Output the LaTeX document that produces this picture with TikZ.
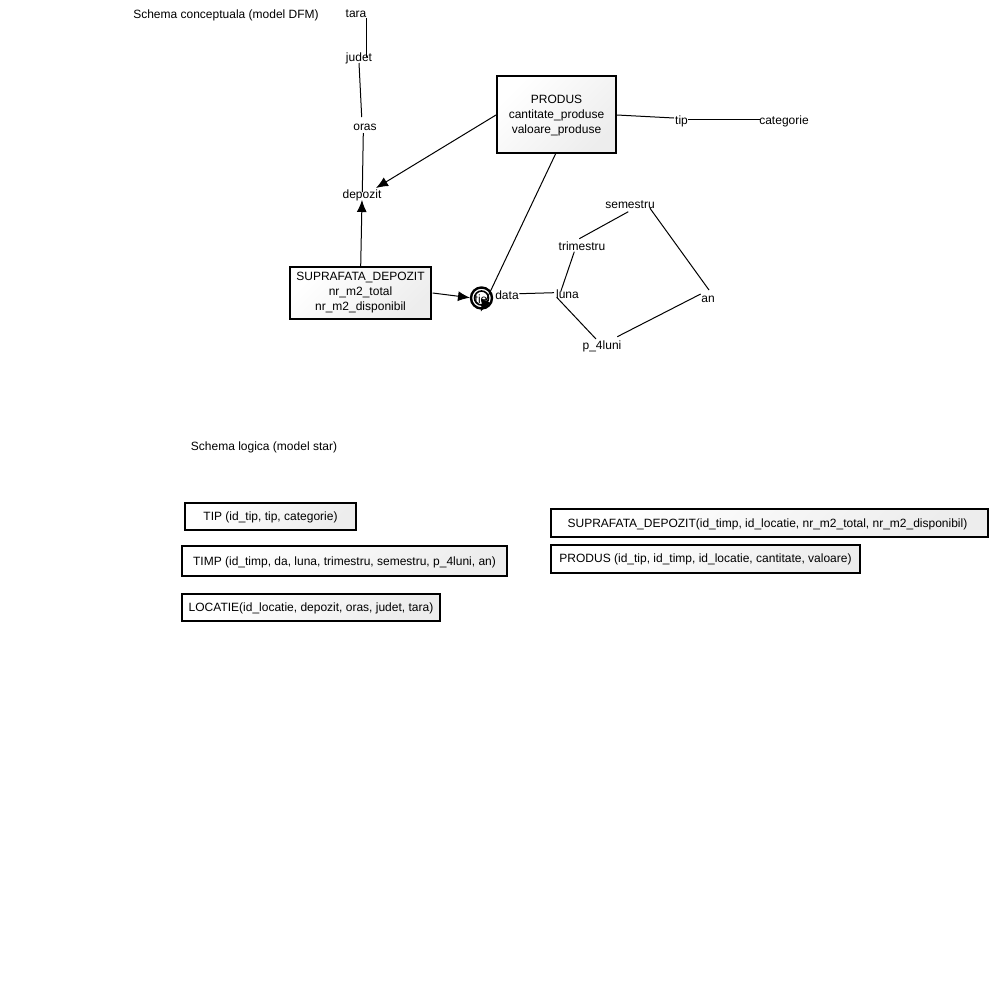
\documentclass[tikz,border=0pt]{standalone}
\usepackage{fontspec}
\setmainfont{Liberation Sans}
\usetikzlibrary{arrows.meta}
\newcommand{\nudgeline}{\rule{0pt}{8.2pt}}
\tikzset{
  lbl/.style={font=\fontsize{9pt}{11.25pt}\selectfont,inner sep=0pt,align=center},
  factbox/.style={lbl,draw=black,line width=1.5pt,left color=white,right color=black!7,shading angle=45,minimum width=#1},
  link/.style={draw=black,line width=0.75pt},
  arrowlink/.style={link,-{Latex[length=9pt,width=7.5pt]}},
}
\begin{document}
\begin{tikzpicture}[x=0.75pt,y=-0.75pt]
\useasboundingbox (0,0) rectangle (1000,1000);
\fill[white] (0,0) rectangle (1000,1000);
% titles
\node[lbl] (title1) at (226,15) {Schema conceptuala (model DFM)};
\node[lbl] (title2) at (264,447) {Schema logica (model star)};
% hierarchy labels
\node[lbl] (tara) at (356,14) {tara};
\node[lbl] (judet) at (359,58) {judet};
\node[lbl] (oras) at (365,127) {oras};
\node[lbl] (depozit) at (362,195) {depozit};
\node[lbl] (tip) at (681.5,121) {tip};
\node[lbl] (categorie) at (784,121) {categorie};
\node[lbl] (data) at (507,295) {data};
\node[lbl] (luna) at (567.5,294) {luna};
\node[lbl] (trimestru) at (582,246.5) {trimestru};
\node[lbl] (semestru) at (630,205) {semestru};
\node[lbl] (an) at (708,299) {an};
\node[lbl] (p4luni) at (602,346) {p\_4luni};
% fact boxes
\node[factbox=119.5*0.75pt,minimum height=76.5*0.75pt] (produs) at (556.5,114.5) {\nudgeline PRODUS\\cantitate\_produse\\valoare\_produse};
\node[factbox=141*0.75pt,minimum height=52*0.75pt] (suprafata) at (360.5,293) {SUPRAFATA\_DEPOZIT\\nr\_m2\_total\\nr\_m2\_disponibil};
% time dimension circle
\node[circle,draw=black,line width=1.8pt,fill=white,minimum size=21*0.75pt,inner sep=0pt] (timpc) at (481.5,298) {};
\node[circle,draw=black,line width=1.2pt,minimum size=14*0.75pt,inner sep=0pt] (timpi) at (481.5,298) {};
\node[lbl] (timpt) at (481,299) {tie};
% connectors
\draw[link] ([shift={(10.7,4)}]tara.center) -- ([shift={(7.7,-1)}]judet.center);
\draw[link] ([shift={(0,5)}]judet.center) -- ([shift={(-3.3,-10)}]oras.center);
\draw[link] ([shift={(-1.7,6)}]oras.center) -- ([shift={(0.3,-3)}]depozit.center);
\draw[arrowlink] ([shift={(-60.5,0.5)}]produs.center) -- ([shift={(14,-7)}]depozit.center);
\draw[arrowlink] ([shift={(0.2,-27)}]suprafata.center) -- ([shift={(0,5)}]depozit.center);
\draw[arrowlink] ([shift={(72.2,0)}]suprafata.center) -- ([shift={(-11.5,-0.3)}]timpc.center);
\draw[arrowlink] ([shift={(-0.5,38.5)}]produs.center) -- ([shift={(-0.8,13.7)}]timpc.center);
\draw[link] ([shift={(60.5,0.5)}]produs.center) -- ([shift={(-7.5,-3)}]tip.center);
\draw[link] ([shift={(6.5,-2)}]tip.center) -- ([shift={(-24,-2)}]categorie.center);
\draw[link] ([shift={(12.3,-1.3)}]data.center) -- ([shift={(-13.5,-1.3)}]luna.center);
\draw[link] ([shift={(-6.8,-2.3)}]luna.center) -- ([shift={(-7.7,5.2)}]trimestru.center);
\draw[link] ([shift={(-2.7,-7.8)}]trimestru.center) -- ([shift={(-1.7,6.7)}]semestru.center);
\draw[link] ([shift={(20,3.3)}]semestru.center) -- ([shift={(1,-9)}]an.center);
\draw[link] ([shift={(-10.8,3.3)}]luna.center) -- ([shift={(-6,-7)}]p4luni.center);
\draw[link] ([shift={(15.3,-9.3)}]p4luni.center) -- ([shift={(-7.3,-5)}]an.center);
% logical schema
\node[factbox=171*0.75pt,minimum height=27*0.75pt] (tbtip) at (270.5,516.5) {\nudgeline TIP (id\_tip, tip, categorie)};
\node[factbox=325*0.75pt,minimum height=30*0.75pt] (tbtimp) at (344.5,561) {\nudgeline TIMP (id\_timp, da, luna, trimestru, semestru, p\_4luni, an)};
\node[factbox=258*0.75pt,minimum height=27*0.75pt] (tblocatie) at (311,607.5) {\nudgeline LOCATIE(id\_locatie, depozit, oras, judet, tara)};
\node[factbox=437*0.75pt,minimum height=28*0.75pt] (tbsuprafata) at (769.5,523) {\nudgeline\hspace*{-3pt}SUPRAFATA\_DEPOZIT(id\_timp, id\_locatie, nr\_m2\_total, nr\_m2\_disponibil)};
\node[factbox=309*0.75pt,minimum height=28*0.75pt] (tbprodus) at (705.5,559) {PRODUS (id\_tip, id\_timp, id\_locatie, cantitate, valoare)};
\end{tikzpicture}
\end{document}
